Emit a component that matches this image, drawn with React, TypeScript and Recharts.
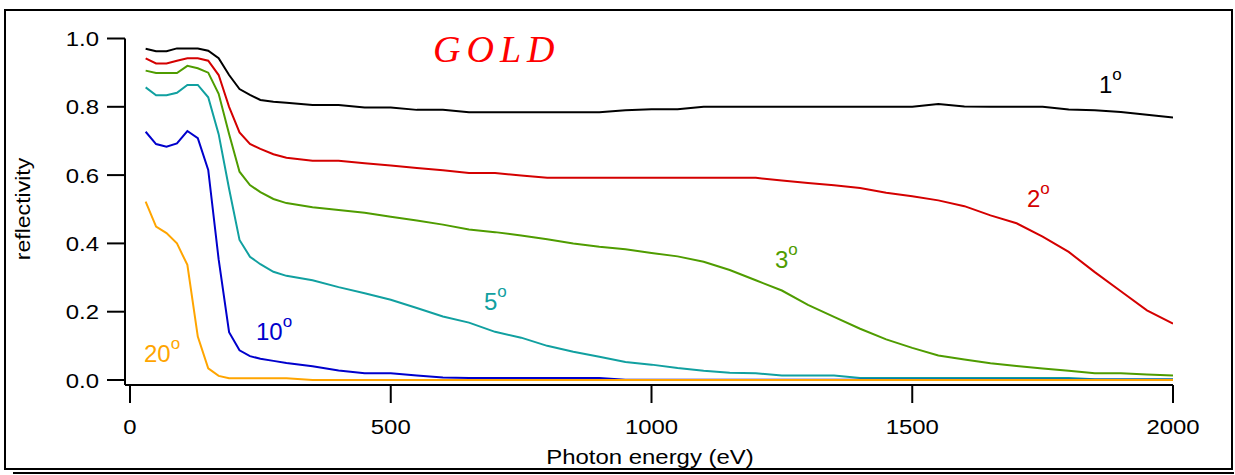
import { LineChart, Line, XAxis, YAxis } from "recharts";

// photon energy (eV) sample points
const energies = [
  30, 50, 70, 90, 110, 130, 150, 170, 190, 210, 230, 250, 275, 300,
  350, 400, 450, 500, 550, 600, 650, 700, 750, 800,
  850, 900, 950, 1000, 1050, 1100, 1150, 1200, 1250, 1300,
  1350, 1400, 1450, 1500, 1550, 1600, 1650, 1700, 1750, 1800,
  1850, 1900, 1950, 2000,
];

const deg1 = [
  0.97, 0.963, 0.963, 0.971, 0.971, 0.971, 0.964, 0.942, 0.893, 0.852, 0.835, 0.82, 0.815, 0.812,
  0.805, 0.805, 0.798, 0.798, 0.791, 0.791, 0.784, 0.784, 0.784, 0.784,
  0.784, 0.784, 0.79, 0.793, 0.793, 0.8, 0.8, 0.8, 0.8, 0.8,
  0.8, 0.8, 0.8, 0.8, 0.808, 0.801, 0.8, 0.8, 0.8, 0.792,
  0.79, 0.785, 0.777, 0.769,
];

const deg2 = [
  0.942, 0.927, 0.927, 0.935, 0.942, 0.942, 0.935, 0.893, 0.8, 0.725, 0.691, 0.677, 0.661, 0.651,
  0.642, 0.642, 0.635, 0.628, 0.621, 0.614, 0.606, 0.606, 0.599, 0.592,
  0.592, 0.592, 0.592, 0.592, 0.592, 0.592, 0.592, 0.592, 0.584, 0.577,
  0.57, 0.562, 0.548, 0.538, 0.526, 0.509, 0.482, 0.459, 0.42, 0.375,
  0.316, 0.26, 0.204, 0.165,
];

const deg3 = [
  0.906, 0.899, 0.899, 0.899, 0.92, 0.913, 0.9, 0.838, 0.72, 0.61, 0.571, 0.55, 0.53, 0.518,
  0.506, 0.498, 0.49, 0.478, 0.467, 0.455, 0.441, 0.433, 0.423, 0.412,
  0.4, 0.39, 0.383, 0.372, 0.362, 0.346, 0.322, 0.292, 0.262, 0.22,
  0.185, 0.15, 0.119, 0.094, 0.072, 0.06, 0.049, 0.041, 0.034, 0.027,
  0.02, 0.02, 0.016, 0.013,
];

const deg5 = [
  0.857, 0.834, 0.834, 0.841, 0.864, 0.864, 0.828, 0.72, 0.56, 0.41, 0.361, 0.339, 0.317, 0.305,
  0.292, 0.272, 0.254, 0.235, 0.211, 0.186, 0.168, 0.141, 0.124, 0.1,
  0.083, 0.068, 0.053, 0.045, 0.035, 0.027, 0.021, 0.02, 0.013, 0.013,
  0.013, 0.006, 0.006, 0.006, 0.006, 0.006, 0.006, 0.006, 0.006, 0.006,
  0.002, 0.002, 0.002, 0.002,
];

const deg10 = [
  0.727, 0.691, 0.683, 0.693, 0.729, 0.708, 0.615, 0.353, 0.14, 0.087, 0.07, 0.062, 0.056, 0.05,
  0.04, 0.028, 0.02, 0.02, 0.013, 0.007, 0.006, 0.006, 0.006, 0.006,
  0.006, 0.006, 0.001, 0.001, 0.001, 0.001, 0.001, 0.001, 0.001, 0.001,
  0.001, 0.001, 0.001, 0.001, 0.001, 0.001, 0.001, 0.001, 0.001, 0.001,
  0.001, 0.001, 0.001, 0.001,
];

const deg20 = [
  0.522, 0.449, 0.43, 0.4, 0.337, 0.127, 0.034, 0.012, 0.005, 0.005, 0.005, 0.005, 0.005, 0.005,
  0, 0, 0, 0, 0, 0, 0, 0, 0, 0,
  0, 0, 0, 0, 0, 0, 0, 0, 0, 0,
  0, 0, 0, 0, 0, 0, 0, 0, 0, 0,
  0, 0, 0, 0,
];

const xTicks = [0, 500, 1000, 1500, 2000];
const yTicks = [0, 0.2, 0.4, 0.6, 0.8, 1.0];

const series = [
  { key: "d1", values: deg1, color: "#000000", label: "1", lx: 1099, ly: 93 },
  { key: "d2", values: deg2, color: "#d40000", label: "2", lx: 1027, ly: 207 },
  { key: "d3", values: deg3, color: "#4f9c00", label: "3", lx: 775, ly: 268 },
  { key: "d5", values: deg5, color: "#11a0a0", label: "5", lx: 484, ly: 310 },
  { key: "d10", values: deg10, color: "#0000cc", label: "10", lx: 256, ly: 340 },
  { key: "d20", values: deg20, color: "#ffa500", label: "20", lx: 144, ly: 362 },
];

const rows = energies.map((e, i) => {
  const row: Record<string, number> = { energy: e };
  series.forEach((s) => {
    row[s.key] = s.values[i];
  });
  return row;
});

const FONT = "'Liberation Sans', Arial, sans-serif";

const XTick = (props: any) => {
  const { x, y, payload } = props;
  return (
    <text
      transform={`translate(${x},${y}) scale(1.14,1)`}
      textAnchor="middle"
      dy={15}
      fontSize={21}
      fontFamily={FONT}
      fill="#000"
    >
      {payload.value}
    </text>
  );
};

const YTick = (props: any) => {
  const { x, y, payload } = props;
  return (
    <text
      transform={`translate(${x},${y}) scale(1.14,1)`}
      textAnchor="end"
      dy={7.5}
      fontSize={21}
      fontFamily={FONT}
      fill="#000"
    >
      {Number(payload.value).toFixed(1)}
    </text>
  );
};

export default function App() {
  return (
    <div
      style={{
        position: "absolute",
        left: 0,
        top: 0,
        width: 1235,
        height: 475,
        background: "#fff",
      }}
    >
      <LineChart
        width={1235}
        height={475}
        data={rows}
        margin={{ top: 38.5, right: 62, bottom: 30, left: 65 }}
      >
        <XAxis
          type="number"
          dataKey="energy"
          domain={[-9.59, 2000]}
          allowDataOverflow
          ticks={xTicks}
          tickSize={18}
          tickMargin={16}
          height={60}
          axisLine={{ stroke: "#000", strokeWidth: 2 }}
          tickLine={{ stroke: "#000", strokeWidth: 2 }}
          tick={<XTick />}
        />
        <YAxis
          type="number"
          domain={[-0.01464, 1]}
          allowDataOverflow
          ticks={yTicks}
          tickSize={18}
          tickMargin={8}
          width={60}
          axisLine={{ stroke: "#000", strokeWidth: 2 }}
          tickLine={{ stroke: "#000", strokeWidth: 2 }}
          tick={<YTick />}
        />
        {series.map((s) => (
          <Line
            key={s.key}
            dataKey={s.key}
            stroke={s.color}
            strokeWidth={2}
            dot={false}
            activeDot={false}
            isAnimationActive={false}
          />
        ))}
      </LineChart>
      <svg
        width={1235}
        height={475}
        style={{ position: "absolute", left: 0, top: 0, pointerEvents: "none" }}
      >
        <rect x={5} y={10} width={1227} height={459} fill="none" stroke="#000" strokeWidth={2} />
        <line x1={13} y1={473} x2={1234} y2={473} stroke="#000" strokeWidth={2} />
        <text
          x={433}
          y={62}
          fontSize={38}
          fontStyle="italic"
          fontFamily="'Liberation Serif', 'DejaVu Serif', serif"
          letterSpacing={6}
          fill="#ff0000"
        >
          GOLD
        </text>
        {series.map((s) => (
          <text key={s.key} x={s.lx} y={s.ly} fontSize={24} fontFamily={FONT} fill={s.color}>
            {s.label}
            <tspan fontSize={17} dy={-13.5}>
              o
            </tspan>
          </text>
        ))}
        <text
          transform="translate(650,464) scale(1.14,1)"
          textAnchor="middle"
          fontSize={21}
          fontFamily={FONT}
          fill="#000"
        >
          Photon energy (eV)
        </text>
        <text
          transform="translate(30,209) rotate(-90) scale(1.1,1)"
          textAnchor="middle"
          fontSize={21}
          fontFamily={FONT}
          fill="#000"
        >
          reflectivity
        </text>
      </svg>
    </div>
  );
}
